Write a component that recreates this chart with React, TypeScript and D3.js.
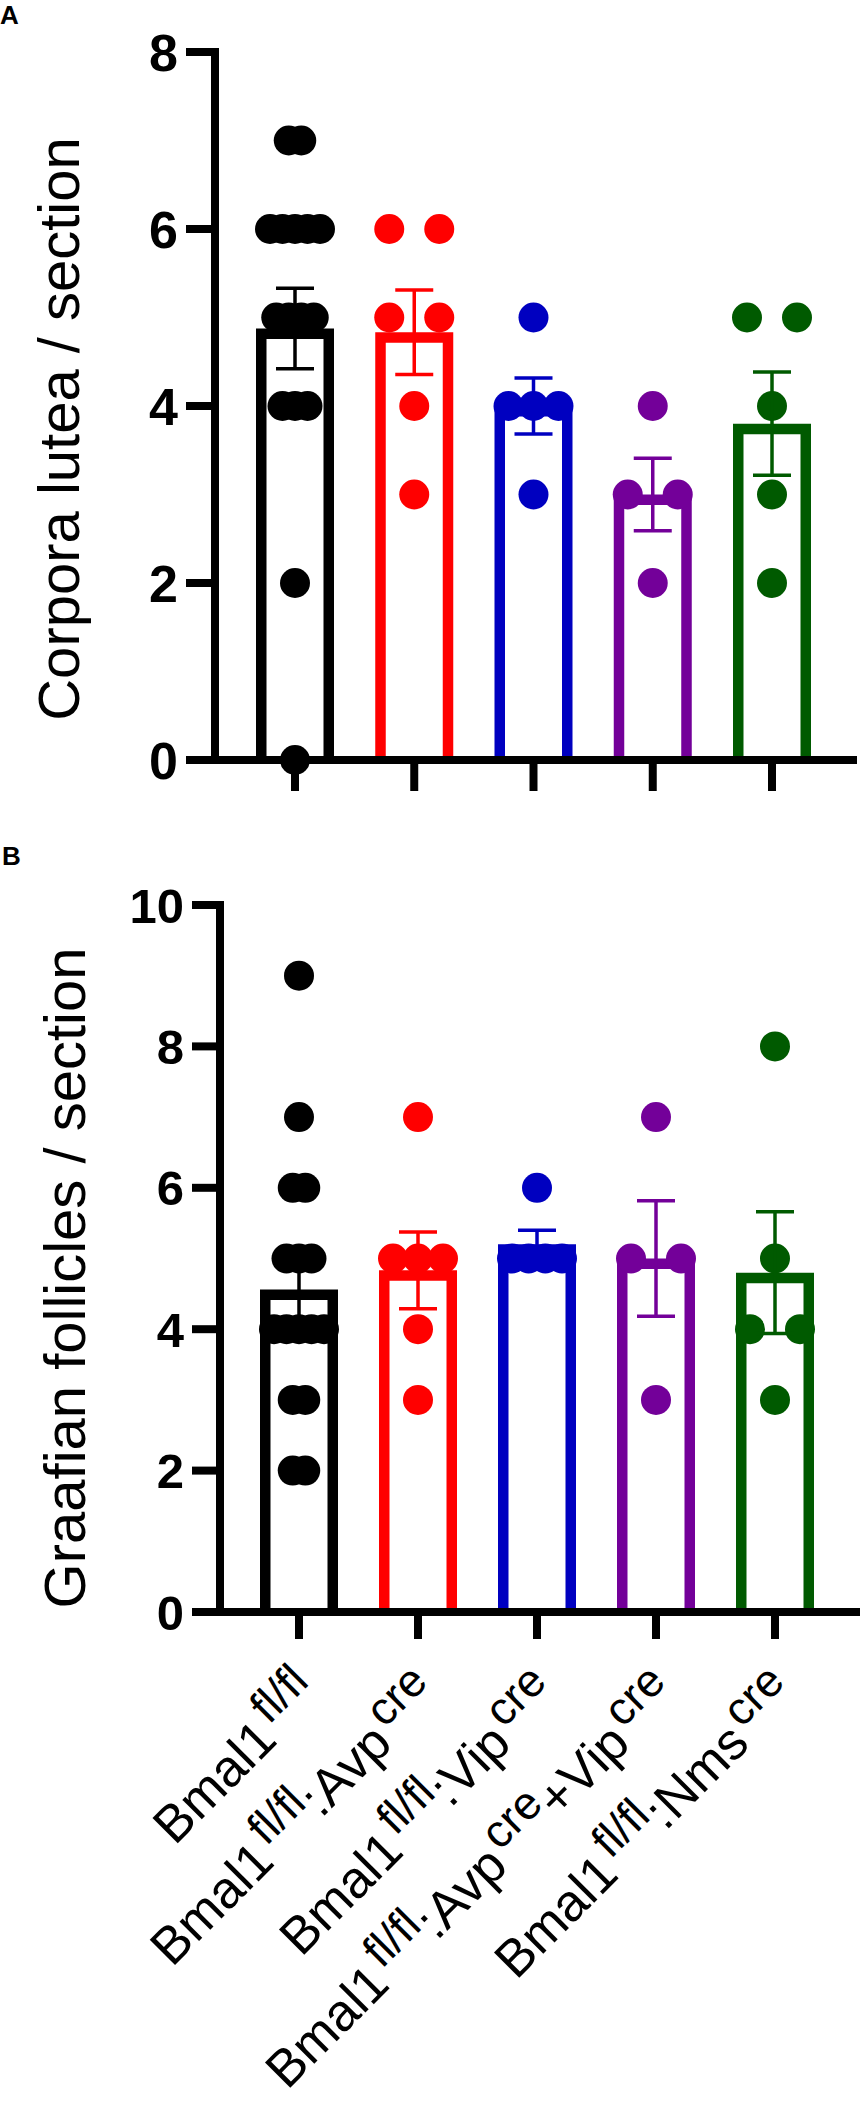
import React from "react";
import * as d3 from "d3";

// ---- data ----
const groupKeys = ["Bmal1fl", "AvpCre", "VipCre", "AvpVipCre", "NmsCre"];
const groupColors = ["#000000", "#FF0000", "#0000C0", "#730099", "#005A00"];

const corporaLutea: number[][] = [
  [7, 7, 6, 6, 6, 6, 6, 5, 5, 5, 5, 4, 4, 4, 2, 0],
  [6, 6, 5, 5, 4, 3],
  [5, 4, 4, 4, 3],
  [4, 3, 3, 2],
  [5, 5, 4, 3, 2],
];

const graafianFollicles: number[][] = [
  [9, 7, 6, 6, 5, 5, 5, 4, 4, 4, 4, 4, 3, 3, 2, 2],
  [7, 5, 5, 5, 4, 3],
  [6, 5, 5, 5, 5],
  [7, 5, 5, 3],
  [8, 5, 4, 4, 3],
];

const ticksA = [0, 2, 4, 6, 8];
const ticksB = [0, 2, 4, 6, 8, 10];

// [text, superscript]
const xLabelParts: [string, boolean][][] = [
  [["Bmal1", false], ["fl/fl", true]],
  [["Bmal1", false], ["fl/fl", true], [":Avp", false], ["cre", true]],
  [["Bmal1", false], ["fl/fl", true], [":Vip", false], ["cre", true]],
  [["Bmal1", false], ["fl/fl", true], [":Avp", false], ["cre", true], ["+Vip", false], ["cre", true]],
  [["Bmal1", false], ["fl/fl", true], [":Nms", false], ["cre", true]],
];

const FONT = "Arial, 'Liberation Sans', Helvetica, sans-serif";

type PanelCfg = {
  data: number[][];
  ticks: number[];
  yMax: number;
  axisX: number;
  y0: number;
  yTop: number;
  xEnd: number;
  firstX: number;
  lastX: number;
  tickFont: number;
  tickLen: number;
  xTickLen: number;
  title: string;
  titleX: number;
  titleY: number;
  letter: string;
  letterX: number;
  letterY: number;
  showLabels: boolean;
};

function dotOffsets(vals: number[], spread: number): number[] {
  const counts = d3.rollup(vals, (v) => v.length, (d) => d);
  const maxCount = d3.max(Array.from(counts.values())) || 1;
  const step = maxCount > 1 ? spread / (maxCount - 1) : 0;
  const seen = new Map<number, number>();
  return vals.map((v) => {
    const k = counts.get(v) || 1;
    const i = seen.get(v) || 0;
    seen.set(v, i + 1);
    return (i - (k - 1) / 2) * step;
  });
}

function Panel({ cfg }: { cfg: PanelCfg }) {
  const y = d3.scaleLinear().domain([0, cfg.yMax]).range([cfg.y0, cfg.yTop]);
  const x = d3.scalePoint<string>().domain(groupKeys).range([cfg.firstX, cfg.lastX]);
  const axisW = 8;
  const barW = 78;
  const barStroke = 10.5;
  const capW = 38;
  const r = 15;
  const labelFont = 52;
  const supFont = 46;
  const supRaise = 19;

  return (
    <g fontFamily={FONT}>
      <text x={cfg.letterX} y={cfg.letterY} fontSize={26} fontWeight="bold">
        {cfg.letter}
      </text>
      <text
        transform={`translate(${cfg.titleX},${cfg.titleY}) rotate(-90)`}
        textAnchor="middle"
        fontSize={58}
      >
        {cfg.title}
      </text>

      {/* bars */}
      {cfg.data.map((vals, i) => {
        const m = d3.mean(vals) || 0;
        const cx = x(groupKeys[i]) as number;
        const h = barStroke / 2;
        const top = y(m) + h;
        const path = d3.path();
        path.moveTo(cx - barW / 2 + h, cfg.y0);
        path.lineTo(cx - barW / 2 + h, top);
        path.lineTo(cx + barW / 2 - h, top);
        path.lineTo(cx + barW / 2 - h, cfg.y0);
        return (
          <path
            key={"bar" + i}
            d={path.toString()}
            fill="none"
            stroke={groupColors[i]}
            strokeWidth={barStroke}
            strokeLinejoin="miter"
          />
        );
      })}

      {/* axes */}
      <line
        x1={cfg.axisX}
        x2={cfg.axisX}
        y1={y(cfg.yMax) - axisW / 2}
        y2={cfg.y0 + axisW / 2}
        stroke="#000"
        strokeWidth={axisW}
      />
      <line
        x1={cfg.axisX - cfg.tickLen}
        x2={cfg.xEnd}
        y1={cfg.y0}
        y2={cfg.y0}
        stroke="#000"
        strokeWidth={axisW}
      />
      {cfg.ticks.map((t) => (
        <g key={"yt" + t}>
          <line
            x1={cfg.axisX - cfg.tickLen}
            x2={cfg.axisX}
            y1={y(t)}
            y2={y(t)}
            stroke="#000"
            strokeWidth={axisW}
          />
          <text
            x={cfg.axisX - cfg.tickLen - 8}
            y={y(t)}
            dy="0.36em"
            textAnchor="end"
            fontSize={cfg.tickFont}
            fontWeight="bold"
          >
            {t}
          </text>
        </g>
      ))}
      {groupKeys.map((g) => (
        <line
          key={"xt" + g}
          x1={x(g)}
          x2={x(g)}
          y1={cfg.y0}
          y2={cfg.y0 + cfg.xTickLen}
          stroke="#000"
          strokeWidth={axisW}
        />
      ))}

      {/* dots */}
      {cfg.data.map((vals, i) => {
        const cx = x(groupKeys[i]) as number;
        const offs = dotOffsets(vals, 50);
        return (
          <g key={"dots" + i} fill={groupColors[i]}>
            {vals.map((v, j) => (
              <circle key={j} cx={cx + offs[j]} cy={y(v)} r={r} />
            ))}
          </g>
        );
      })}

      {/* error bars (mean ± SEM) */}
      {cfg.data.map((vals, i) => {
        const m = d3.mean(vals) || 0;
        const sem = (d3.deviation(vals) || 0) / Math.sqrt(vals.length);
        const cx = x(groupKeys[i]) as number;
        const yHi = y(m + sem);
        const yLo = y(m - sem);
        return (
          <g key={"err" + i} stroke={groupColors[i]} strokeWidth={3.5}>
            <line x1={cx} x2={cx} y1={yHi} y2={yLo} />
            <line x1={cx - capW / 2} x2={cx + capW / 2} y1={yHi} y2={yHi} />
            <line x1={cx - capW / 2} x2={cx + capW / 2} y1={yLo} y2={yLo} />
          </g>
        );
      })}

      {/* x labels */}
      {cfg.showLabels &&
        xLabelParts.map((parts, i) => {
          const cx = x(groupKeys[i]) as number;
          let raised = false;
          return (
            <text
              key={"xl" + i}
              transform={`translate(${cx + 25},${cfg.y0 + 85}) rotate(-45)`}
              textAnchor="end"
              fontSize={labelFont}
            >
              {parts.map(([t, sup], j) => {
                let dy = 0;
                if (sup && !raised) dy = -supRaise;
                if (!sup && raised) dy = supRaise;
                raised = sup;
                return (
                  <tspan key={j} dy={dy} dx={sup ? 5 : 0} fontSize={sup ? supFont : labelFont}>
                    {t}
                  </tspan>
                );
              })}
            </text>
          );
        })}
    </g>
  );
}

const panelA: PanelCfg = {
  data: corporaLutea,
  ticks: ticksA,
  yMax: 8,
  axisX: 215,
  y0: 760,
  yTop: 52,
  xEnd: 857,
  firstX: 295,
  lastX: 772,
  tickFont: 52,
  tickLen: 29,
  xTickLen: 31,
  title: "Corpora lutea / section",
  titleX: 79,
  titleY: 429,
  letter: "A",
  letterX: 0,
  letterY: 24,
  showLabels: false,
};

const panelB: PanelCfg = {
  data: graafianFollicles,
  ticks: ticksB,
  yMax: 10,
  axisX: 220,
  y0: 1612,
  yTop: 905,
  xEnd: 860,
  firstX: 299,
  lastX: 775,
  tickFont: 49,
  tickLen: 28,
  xTickLen: 27,
  title: "Graafian follicles / section",
  titleX: 85,
  titleY: 1278,
  letter: "B",
  letterX: 2,
  letterY: 865,
  showLabels: true,
};

export default function App() {
  return (
    <svg
      width={861}
      height={2106}
      style={{ position: "absolute", left: 0, top: 0, background: "#fff" }}
    >
      <rect width={861} height={2106} fill="#fff" />
      <Panel cfg={panelA} />
      <Panel cfg={panelB} />
    </svg>
  );
}
